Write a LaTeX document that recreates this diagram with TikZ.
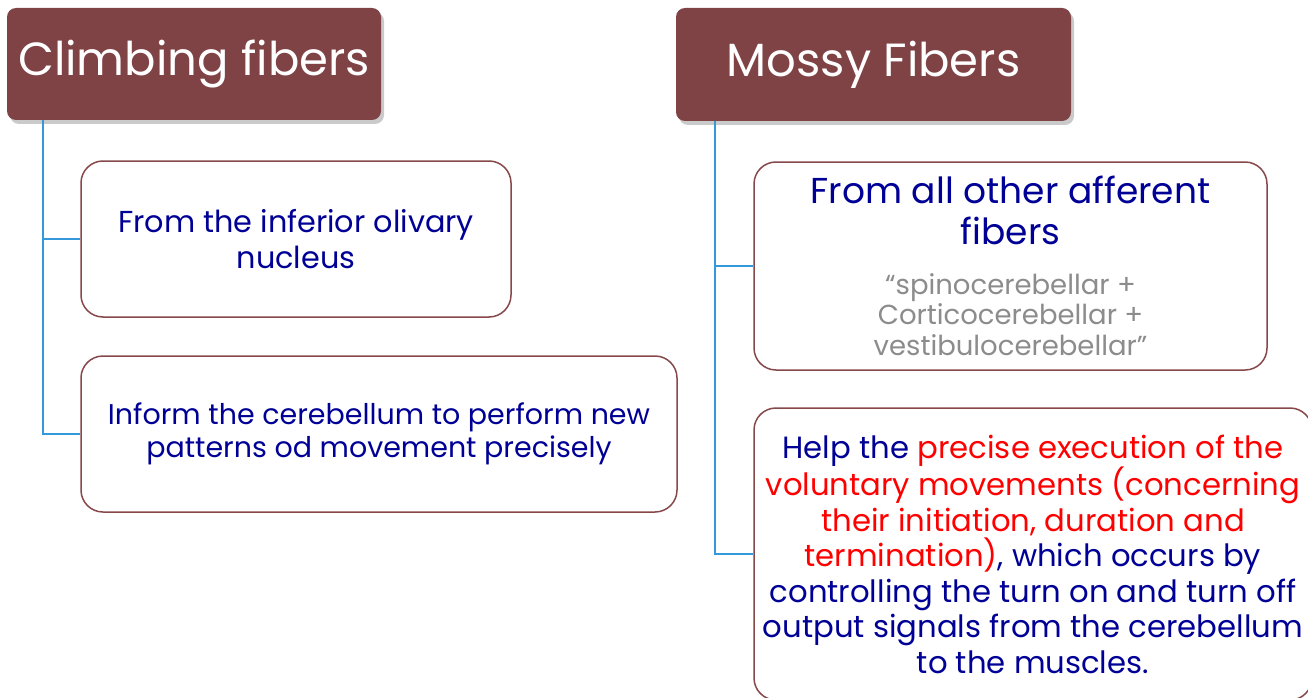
\documentclass[tikz,border=0pt]{standalone}
\usepackage{fontspec}
\setmainfont{Poppins}
\usetikzlibrary{shadows,calc}
\definecolor{hdrfill}{RGB}{128,67,69}
\definecolor{boxline}{RGB}{135,72,75}
\definecolor{linkblue}{RGB}{52,152,219}
\definecolor{navy}{RGB}{0,0,150}
\definecolor{note}{RGB}{140,140,140}
\tikzset{
  header/.style={rectangle, rounded corners=9pt, fill=hdrfill, text=white,
    inner sep=0pt, font=\fontsize{46.5}{56}\selectfont,
    drop shadow={shadow xshift=3pt, shadow yshift=-4pt, opacity=0.35, fill=black!60}},
  infobox/.style={rectangle, rounded corners=22pt, draw=boxline, line width=1.5pt,
    fill=white, inner sep=0pt, align=center, text=navy},
  link/.style={draw=linkblue, line width=1.6pt},
}
\begin{document}
\begin{tikzpicture}[x=1pt,y=-1pt]
\useasboundingbox (0,0) rectangle (1308,698);
\clip (0,0) rectangle (1308,698);

% column headings
\node[header, minimum width=374pt, minimum height=112pt] (h1) at (194,64) {Climbing fibers};
\node[header, minimum width=395pt, minimum height=113pt] (h2) at (873.5,64.5) {Mossy Fibers};

% climbing fibres
\node[infobox, minimum width=430pt, minimum height=156pt,
      font=\fontsize{30.3}{36}\selectfont] (b1) at (296,239)
  {From the inferior olivary\\nucleus};
\node[infobox, minimum width=596pt, minimum height=156pt,
      font=\fontsize{28.5}{33}\selectfont] (b2) at (379,434)
  {Inform the cerebellum to perform new\\patterns od movement precisely};

% mossy fibres
\node[infobox, minimum width=513pt, minimum height=208pt] (m1) at (1010.5,266)
  {\parbox{490pt}{\centering\parskip=0pt
     \fontsize{36}{41}\selectfont From all other afferent\\fibers\par
     \vspace{19pt}
     \fontsize{27.5}{30.5}\selectfont\color{note}“spinocerebellar +\\Corticocerebellar +\\vestibulocerebellar”\par}};
\node[infobox, minimum width=558pt, minimum height=292pt,
      font=\fontsize{30.7}{35.5}\selectfont] (m2) at (1033,554)
  {Help the \textcolor{red}{precise execution of the}\\
   \textcolor{red}{voluntary movements (concerning}\\
   \textcolor{red}{their initiation, duration and}\\
   \textcolor{red}{termination)}, which occurs by\\
   controlling the turn on and turn off\\
   output signals from the cerebellum\\
   to the muscles.};

% tree connectors
\coordinate (t1) at ($(h1.south west)+(36pt,0)$);
\coordinate (t2) at ($(h2.south west)+(39pt,0)$);
\draw[link] (t1) |- (b1.west);
\draw[link] (t1) |- (b2.west);
\draw[link] (t2) |- (m1.west);
\draw[link] (t2) |- (m2.west);
\end{tikzpicture}
\end{document}
